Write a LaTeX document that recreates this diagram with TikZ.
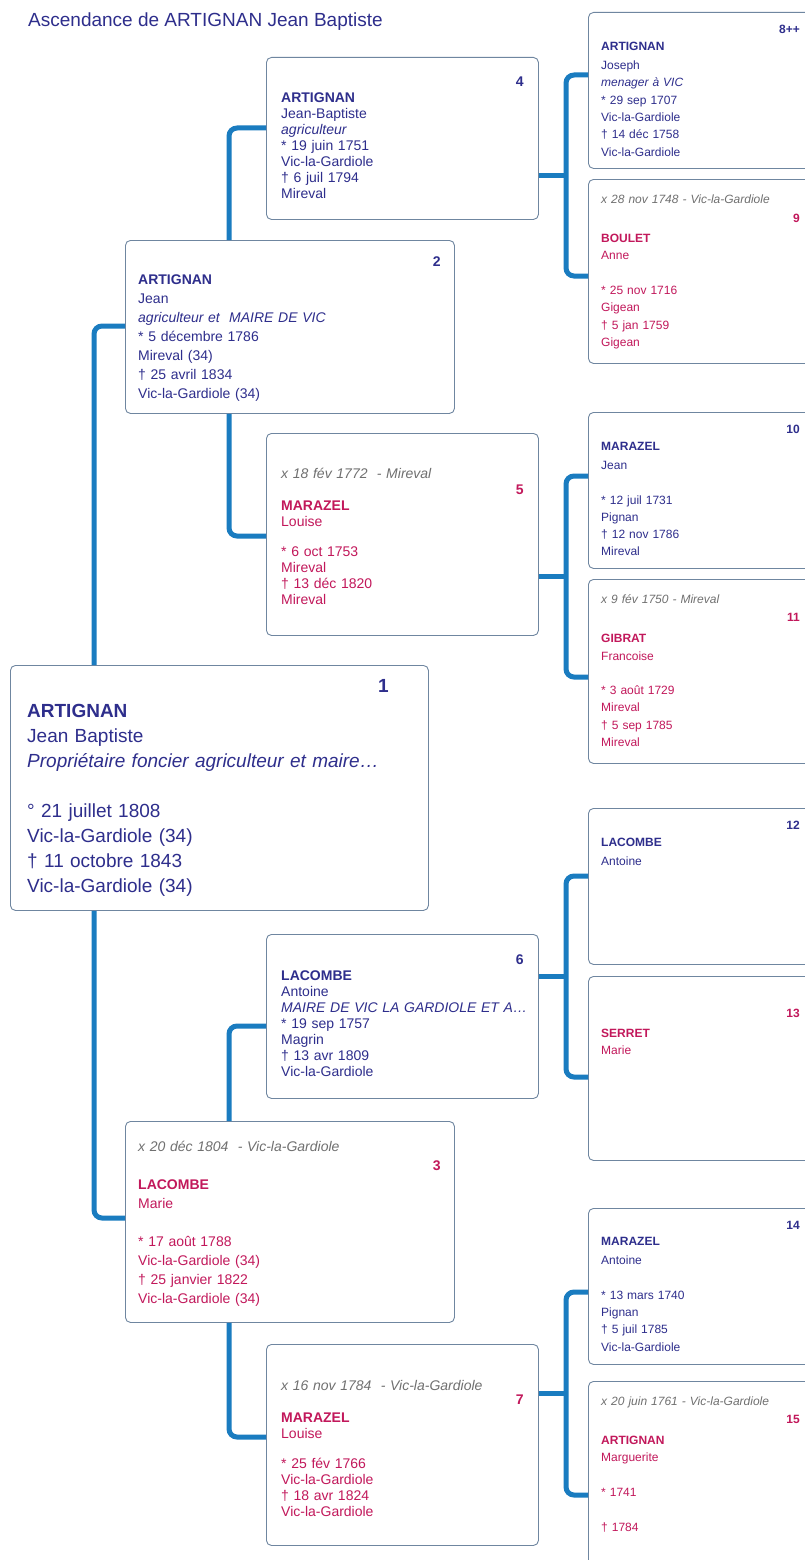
\documentclass[tikz,border=0pt]{standalone}
\usepackage{fontspec}
\setmainfont{Liberation Sans}
\usepackage{tikz}
\usetikzlibrary{calc}

\definecolor{mancol}{HTML}{2E2E8C}
\definecolor{womancol}{HTML}{C2185B}
\definecolor{wedcol}{HTML}{707070}
\definecolor{linkcol}{HTML}{1A7CC0}
\definecolor{framecol}{HTML}{6F86A0}

\tikzset{
  frame/.style={draw=framecol, line width=0.9pt, rounded corners=5pt, fill=white,
    anchor=north west, inner sep=0pt},
  link/.style={draw=linkcol, line width=5pt, rounded corners=8pt},
  info/.style={anchor=north west, inner sep=0pt, align=left, text width=400pt},
  pnum/.style={anchor=north east, inner sep=0pt},
  size1/.style={font=\fontsize{19}{25}\selectfont},
  size2/.style={font=\fontsize{14}{19}\selectfont},
  size3/.style={font=\fontsize{14}{16}\selectfont},
  size4/.style={font=\fontsize{12}{17.3}\selectfont},
  male/.style={text=mancol},
  female/.style={text=womancol},
}
\newcommand{\wed}[1]{{\color{wedcol}\itshape #1}}

\begin{document}
\begin{tikzpicture}[x=1pt, y=-1pt]
        \useasboundingbox (0,0) rectangle (805,1560);
        \clip (0,0) rectangle (805,1560);
        \fill[white] (0,0) rectangle (805,1560);

        \node [anchor=base west, inner sep=0pt, font=\fontsize{19}{23}\selectfont, text=mancol] (title) at (28,27) {Ascendance de ARTIGNAN Jean Baptiste};

        % generation 1 and 2
        \node [frame, minimum width=418pt, minimum height=245pt] (p1) at (10,665) {};
        \node [info, size1, male] (t1) at ($(p1.north west)+(17,39)$) {\textbf{ARTIGNAN}\\Jean Baptiste\\\textit{Propriétaire foncier agriculteur et maire…}\\[25pt]° 21 juillet 1808\\Vic-la-Gardiole (34)\\† 11 octobre 1843\\Vic-la-Gardiole (34)};
        \node [pnum, size1, male] (n1) at ($(p1.north east)+(-40,14)$) {\textbf{1}};

        \node [frame, minimum width=329pt, minimum height=173pt] (p2) at (125,240) {};
        \node [info, size2, male] (t2) at ($(p2.north west)+(13,35)$) {\textbf{ARTIGNAN}\\Jean\\\textit{agriculteur et\ \ MAIRE DE VIC}\\{}* 5 décembre 1786\\Mireval (34)\\† 25 avril 1834\\Vic-la-Gardiole (34)};
        \node [pnum, size2, male] (n2) at ($(p2.north east)+(-14,17)$) {\textbf{2}};

        \node [frame, minimum width=329pt, minimum height=201pt] (p3) at (125,1121) {};
        \node [info, size2, female] (t3) at ($(p3.north west)+(13,20)$) {\wed{x 20 déc 1804\ \ - Vic-la-Gardiole}\\[19pt]\textbf{LACOMBE}\\Marie\\[19pt]* 17 août 1788\\Vic-la-Gardiole (34)\\† 25 janvier 1822\\Vic-la-Gardiole (34)};
        \node [pnum, size2, female] (n3) at ($(p3.north east)+(-14,40)$) {\textbf{3}};

        % generation 3
        \node [frame, minimum width=272pt, minimum height=162pt] (p4) at (266,57) {};
        \node [info, size3, male] (t4) at ($(p4.north west)+(15,36)$) {\textbf{ARTIGNAN}\\Jean-Baptiste\\\textit{agriculteur}\\{}* 19 juin 1751\\Vic-la-Gardiole\\† 6 juil 1794\\Mireval};
        \node [pnum, size3, male] (n4) at ($(p4.north east)+(-15,20)$) {\textbf{4}};

        \node [frame, minimum width=272pt, minimum height=202pt] (p5) at (266,433) {};
        \node [info, size3, female] (t5) at ($(p5.north west)+(15,35)$) {\wed{x 18 fév 1772\ \ - Mireval}\\[16pt]\textbf{MARAZEL}\\Louise\\[14pt]* 6 oct 1753\\Mireval\\† 13 déc 1820\\Mireval};
        \node [pnum, size3, female] (n5) at ($(p5.north east)+(-15,52)$) {\textbf{5}};

        \node [frame, minimum width=272pt, minimum height=164pt] (p6) at (266,934) {};
        \node [info, size3, male] (t6) at ($(p6.north west)+(15,37)$) {\textbf{LACOMBE}\\Antoine\\\textit{MAIRE DE VIC LA GARDIOLE ET A…}\\{}* 19 sep 1757\\Magrin\\† 13 avr 1809\\Vic-la-Gardiole};
        \node [pnum, size3, male] (n6) at ($(p6.north east)+(-15,21)$) {\textbf{6}};

        \node [frame, minimum width=272pt, minimum height=201pt] (p7) at (266,1344) {};
        \node [info, size3, female] (t7) at ($(p7.north west)+(15,36)$) {\wed{x 16 nov 1784\ \ - Vic-la-Gardiole}\\[16pt]\textbf{MARAZEL}\\Louise\\[14pt]* 25 fév 1766\\Vic-la-Gardiole\\† 18 avr 1824\\Vic-la-Gardiole};
        \node [pnum, size3, female] (n7) at ($(p7.north east)+(-15,51)$) {\textbf{7}};

        % generation 4
        \node [frame, minimum width=240pt, minimum height=156pt] (p8) at (588,12) {};
        \node [info, size4, male] (t8) at ($(p8.north west)+(13,29.7)$) {\textbf{ARTIGNAN}\\[2pt]Joseph\\\textit{menager à VIC}\\{}* 29 sep 1707\\Vic-la-Gardiole\\† 14 déc 1758\\Vic-la-Gardiole};
        \node [pnum, size4, male] (n8) at ($(p8.north west)+(212,12.7)$) {\textbf{8++}};

        \node [frame, minimum width=240pt, minimum height=184pt] (p9) at (588,179) {};
        \node [info, size4, female] (t9) at ($(p9.north west)+(13,15.7)$) {\wed{x 28 nov 1748 - Vic-la-Gardiole}\\[21.7pt]\textbf{BOULET}\\Anne\\[17.3pt]* 25 nov 1716\\Gigean\\† 5 jan 1759\\Gigean};
        \node [pnum, size4, female] (n9) at ($(p9.north west)+(212,34.5)$) {\textbf{9}};

        \node [frame, minimum width=240pt, minimum height=156pt] (p10) at (588,412) {};
        \node [info, size4, male] (t10) at ($(p10.north west)+(13,29.7)$) {\textbf{MARAZEL}\\[2pt]Jean\\[17.3pt]* 12 juil 1731\\Pignan\\† 12 nov 1786\\Mireval};
        \node [pnum, size4, male] (n10) at ($(p10.north west)+(212,12.7)$) {\textbf{10}};

        \node [frame, minimum width=240pt, minimum height=184pt] (p11) at (588,579) {};
        \node [info, size4, female] (t11) at ($(p11.north west)+(13,15.7)$) {\wed{x 9 fév 1750 - Mireval}\\[21.7pt]\textbf{GIBRAT}\\Francoise\\[17.3pt]* 3 août 1729\\Mireval\\† 5 sep 1785\\Mireval};
        \node [pnum, size4, female] (n11) at ($(p11.north west)+(212,34.5)$) {\textbf{11}};

        \node [frame, minimum width=240pt, minimum height=156pt] (p12) at (588,808) {};
        \node [info, size4, male] (t12) at ($(p12.north west)+(13,29.7)$) {\textbf{LACOMBE}\\[2pt]Antoine};
        \node [pnum, size4, male] (n12) at ($(p12.north west)+(212,12.7)$) {\textbf{12}};

        \node [frame, minimum width=240pt, minimum height=184pt] (p13) at (588,976) {};
        \node [info, size4, female] (t13) at ($(p13.north west)+(13,52.7)$) {\textbf{SERRET}\\Marie};
        \node [pnum, size4, female] (n13) at ($(p13.north west)+(212,32.7)$) {\textbf{13}};

        \node [frame, minimum width=240pt, minimum height=156pt] (p14) at (588,1208) {};
        \node [info, size4, male] (t14) at ($(p14.north west)+(13,29)$) {\textbf{MARAZEL}\\[2pt]Antoine\\[17.3pt]* 13 mars 1740\\Pignan\\† 5 juil 1785\\Vic-la-Gardiole};
        \node [pnum, size4, male] (n14) at ($(p14.north west)+(212,12.7)$) {\textbf{14}};

        \node [frame, minimum width=240pt, minimum height=184pt] (p15) at (588,1381) {};
        \node [info, size4, female] (t15) at ($(p15.north west)+(13,15.7)$) {\wed{x 20 juin 1761 - Vic-la-Gardiole}\\[21.7pt]\textbf{ARTIGNAN}\\Marguerite\\[17.3pt]* 1741\\[17.3pt]† 1784};
        \node [pnum, size4, female] (n15) at ($(p15.north west)+(212,34.5)$) {\textbf{15}};

        % elbows towards the parents
        \coordinate (j2) at (94,326);
        \coordinate (j3) at (94,1218);
        \coordinate (j4) at (229,128);
        \coordinate (j5) at (229,536);
        \coordinate (j6) at (229,1026);
        \coordinate (j7) at (229,1437);

        \draw [link] (p1.north -| j2) |- (p2.west |- j2);
        \draw [link] (p1.south -| j3) |- (p3.west |- j3);
        \draw [link] (p2.north -| j4) |- (p4.west |- j4);
        \draw [link] (p2.south -| j5) |- (p5.west |- j5);
        \draw [link] (p3.north -| j6) |- (p6.west |- j6);
        \draw [link] (p3.south -| j7) |- (p7.west |- j7);

        % forks of the last generation
        \coordinate (b8) at (566,75);
        \coordinate (b9) at (566,276);
        \coordinate (b10) at (566,476);
        \coordinate (b11) at (566,677);
        \coordinate (b12) at (566,876);
        \coordinate (b13) at (566,1077);
        \coordinate (b14) at (566,1292);
        \coordinate (b15) at (566,1495);
        \coordinate (f4) at ($(b8)!0.5!(b9)$);
        \coordinate (f5) at ($(b10)!0.5!(b11)$);
        \coordinate (f6) at ($(b12)!0.5!(b13)$);
        \coordinate (f7) at ($(b14)!0.5!(b15)$);

        \draw [link] (p4.east |- f4) -- (f4);
        \draw [link] (p5.east |- f5) -- (f5);
        \draw [link] (p6.east |- f6) -- (f6);
        \draw [link] (p7.east |- f7) -- (f7);

        \draw [link] (p8.west |- b8) -- (b8) -- (b9) -- (p9.west |- b9);
        \draw [link] (p10.west |- b10) -- (b10) -- (b11) -- (p11.west |- b11);
        \draw [link] (p12.west |- b12) -- (b12) -- (b13) -- (p13.west |- b13);
        \draw [link] (p14.west |- b14) -- (b14) -- (b15) -- (p15.west |- b15);
\end{tikzpicture}
\end{document}
